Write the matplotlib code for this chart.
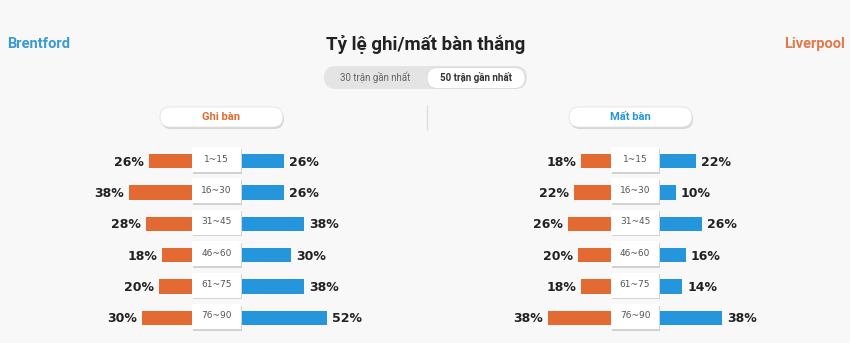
import matplotlib
matplotlib.use("Agg")
import matplotlib.pyplot as plt
from matplotlib.patches import FancyBboxPatch, Rectangle

# data
periods = ["1~15", "16~30", "31~45", "46~60", "61~75", "76~90"]
scored_home = [26, 38, 28, 18, 20, 30]   # Brentford, Ghi bàn (orange)
scored_away = [26, 26, 38, 30, 38, 52]   # Ghi bàn (blue)
conceded_home = [18, 22, 26, 20, 18, 38]  # Mất bàn (orange)
conceded_away = [22, 10, 26, 16, 14, 38]  # Mất bàn (blue)

ORANGE = "#e36a32"
BLUE = "#2596dc"
BG = "#f8f8f8"
HEAD = ["Roboto", "DejaVu Sans"]

fig = plt.figure(figsize=(8.5, 3.43), dpi=100, facecolor=BG)
ax = fig.add_axes([0, 0, 1, 1])
ax.set_xlim(0, 850)
ax.set_ylim(343, 0)
ax.axis("off")
ax.set_facecolor(BG)

# header
ax.text(426, 44, "Tỷ lệ ghi/mất bàn thắng", ha="center", va="center",
        fontsize=13.5, fontweight="bold", color="#222222", family=HEAD)
ax.text(7, 44, "Brentford", ha="left", va="center", fontsize=10.5,
        fontweight="bold", color="#3b9ad6", family=HEAD)
ax.text(845, 44, "Liverpool", ha="right", va="center", fontsize=10.5,
        fontweight="bold", color="#e07a4a", family=HEAD)

# toggle
ax.add_patch(FancyBboxPatch((324, 66), 203, 23, boxstyle="round,pad=0,rounding_size=11.5",
                            fc="#e4e4e4", ec="none"))
ax.add_patch(FancyBboxPatch((427, 67.5), 98, 21, boxstyle="round,pad=0,rounding_size=10.5",
                            fc="white", ec="#d8d8d8", lw=0.6))
ax.text(375, 77.5, "30 trận gần nhất", ha="center", va="center", fontsize=7,
        color="#666666", family=HEAD)
ax.text(476, 77.5, "50 trận gần nhất", ha="center", va="center", fontsize=7,
        fontweight="bold", color="#333333", family=HEAD)

# divider
ax.plot([427, 427], [106, 129], color="#dddddd", lw=1)

k = 1.66
bar_h = 14.5
rows_y = [161 + 31.4 * i for i in range(len(periods))]


def panel(box_left, box_w, pill_x, title, title_color, left_vals, right_vals):
    ax.add_patch(FancyBboxPatch((pill_x + 1, 109), 123, 20,
                                boxstyle="round,pad=0,rounding_size=10",
                                fc="#d6d6d6", ec="none"))
    ax.add_patch(FancyBboxPatch((pill_x, 107), 123, 20,
                                boxstyle="round,pad=0,rounding_size=10",
                                fc="white", ec="#e2e2e2", lw=0.6))
    ax.text(pill_x + 61.5, 117.5, title, ha="center", va="center", fontsize=8,
            fontweight="bold", color=title_color, family=HEAD)

    box_right = box_left + box_w
    lw = [v * k for v in left_vals]
    rw = [v * k for v in right_vals]
    ax.barh(rows_y, [w + 6 for w in lw], left=[box_left - w for w in lw],
            height=bar_h, color=ORANGE)
    ax.barh(rows_y, [w + 6 for w in rw], left=[box_right - 6] * len(rw),
            height=bar_h, color=BLUE)
    for y, lv, rv, w1, w2, p in zip(rows_y, left_vals, right_vals, lw, rw, periods):
        ax.add_patch(Rectangle((box_left + 1.5, y - 14 + 1.5), box_w, 25,
                               fc="#d2d2d2", ec="none"))
        ax.add_patch(Rectangle((box_left, y - 14), box_w, 25,
                               fc="white", ec="none"))
        ax.text(box_left + box_w / 2, y - 2, p, ha="center", va="center",
                fontsize=6.5, color="#555555")
        ax.text(box_left - w1 - 5, y + 1, f"{lv}%", ha="right", va="center",
                fontsize=9, fontweight="bold", color="#222222")
        ax.text(box_right + w2 + 5, y + 1, f"{rv}%", ha="left", va="center",
                fontsize=9, fontweight="bold", color="#222222")


panel(192, 49, 160, "Ghi bàn", ORANGE, scored_home, scored_away)
panel(611, 48, 569, "Mất bàn", BLUE, conceded_home, conceded_away)

fig.savefig("out.png", dpi=100, facecolor=BG)
